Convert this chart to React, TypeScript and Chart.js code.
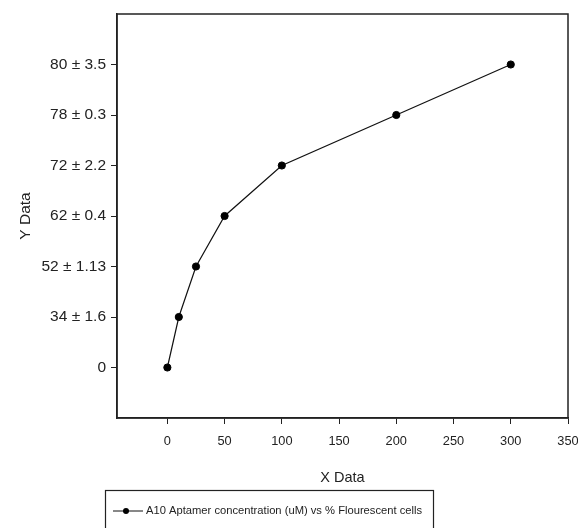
import React, { useEffect, useRef } from "react";
import { Chart, registerables } from "chart.js";

Chart.register(...registerables);

// ---- data ----
const concentrations = [0, 10, 25, 50, 100, 200, 300];
const meanPct = [0, 34, 52, 62, 72, 78, 80];
const sdPct: (number | null)[] = [null, 1.6, 1.13, 0.4, 2.2, 0.3, 3.5];
const xTickValues = [0, 50, 100, 150, 200, 250, 300, 350];
const seriesLabel = "A10 Aptamer concentration (uM) vs % Flourescent cells";
const xTitle = "X Data";
const yTitle = "Y Data";

// y axis is ordinal: each measured level sits at its own evenly spaced row
const yTickLabels = meanPct.map((m, i) => (sdPct[i] == null ? String(m) : `${m} ± ${sdPct[i]}`));
const yTickValues = meanPct.map((_, i) => i);

const FONT = "'Liberation Sans Narrow', 'Liberation Sans', Arial, sans-serif";
const INK = "#222";

const framePlugin = {
  id: "frame",
  afterDraw(chart: any) {
    const { ctx, chartArea } = chart;
    ctx.save();
    ctx.strokeStyle = INK;
    ctx.lineWidth = 1.5;
    ctx.strokeRect(chartArea.left, chartArea.top, chartArea.right - chartArea.left, chartArea.bottom - chartArea.top);
    ctx.restore();
  },
};

const legendPlugin = {
  id: "boxLegend",
  afterDraw(chart: any) {
    const { ctx } = chart;
    const ds = chart.data.datasets[0];
    ctx.save();
    ctx.strokeStyle = INK;
    ctx.lineWidth = 1.2;
    ctx.strokeRect(105.5, 490.5, 328, 60);
    const cy = 511;
    ctx.beginPath();
    ctx.moveTo(113, cy);
    ctx.lineTo(143, cy);
    ctx.strokeStyle = ds.borderColor;
    ctx.lineWidth = 1;
    ctx.stroke();
    ctx.beginPath();
    ctx.arc(126, cy, 3, 0, Math.PI * 2);
    ctx.fillStyle = ds.pointBackgroundColor;
    ctx.fill();
    ctx.fillStyle = INK;
    ctx.font = `11.2px ${FONT}`;
    ctx.textBaseline = "middle";
    ctx.textAlign = "left";
    ctx.fillText(ds.label, 146, cy);
    ctx.restore();
  },
};

export default function App() {
  const ref = useRef<HTMLCanvasElement | null>(null);

  useEffect(() => {
    document.body.style.margin = "0";
    const canvas = ref.current;
    if (!canvas) return;
    const chart = new Chart(canvas, {
      type: "line",
      data: {
        datasets: [
          {
            label: seriesLabel,
            data: concentrations.map((x, i) => ({ x, y: yTickValues[i] })),
            borderColor: "#111",
            borderWidth: 1.2,
            pointBackgroundColor: "#000",
            pointBorderColor: "#000",
            pointRadius: 3.6,
            pointBorderWidth: 1,
            tension: 0,
            fill: false,
          },
        ],
      },
      options: {
        responsive: false,
        animation: false,
        layout: { padding: { left: 0, top: 14, right: 10, bottom: 0 } },
        plugins: {
          legend: { display: false },
          tooltip: { enabled: false },
        },
        scales: {
          x: {
            type: "linear",
            min: -44,
            max: 350,
            afterBuildTicks: (s: any) => {
              s.ticks = xTickValues.map((v) => ({ value: v }));
            },
            afterFit: (s: any) => {
              s.height = 110;
              s.paddingLeft = 0;
              s.paddingRight = 0;
            },
            grid: { drawOnChartArea: false, tickLength: 6, color: INK, lineWidth: 1 },
            border: { color: INK, width: 1.5 },
            ticks: {
              color: INK,
              font: { family: FONT, size: 12.8 },
              padding: 10,
              maxRotation: 0,
              autoSkip: false,
              callback: (v: any) => String(v),
            },
            title: {
              display: true,
              text: xTitle,
              color: INK,
              font: { family: FONT, size: 14.5 },
              padding: { top: 0, bottom: 41 },
            },
          },
          y: {
            type: "linear",
            min: -1,
            max: 7,
            afterBuildTicks: (s: any) => {
              s.ticks = yTickValues.map((v) => ({ value: v }));
            },
            afterFit: (s: any) => {
              s.width = 117;
              s.paddingTop = 0;
              s.paddingBottom = 0;
            },
            grid: { drawOnChartArea: false, tickLength: 6, color: INK, lineWidth: 1 },
            border: { color: INK, width: 1.5 },
            ticks: {
              color: INK,
              font: { family: FONT, size: 15.5 },
              padding: 5,
              autoSkip: false,
              callback: (v: any) => yTickLabels[v] ?? "",
            },
            title: {
              display: true,
              text: yTitle,
              color: INK,
              font: { family: FONT, size: 15.5 },
              padding: { top: 16, bottom: 0 },
            },
          },
        },
      },
      plugins: [framePlugin, legendPlugin],
    });
    return () => chart.destroy();
  }, []);

  return (
    <div style={{ width: 578, height: 528, background: "#fff" }}>
      <canvas ref={ref} width={578} height={528} />
    </div>
  );
}
